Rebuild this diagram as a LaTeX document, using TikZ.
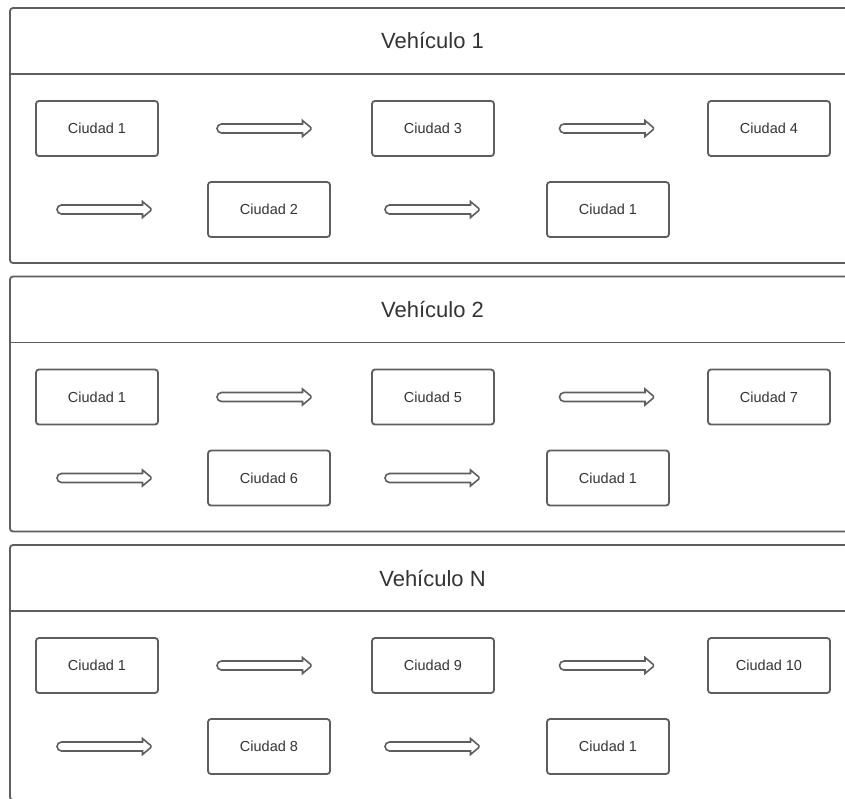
\documentclass[tikz,border=0pt]{standalone}
\usepackage{fontspec}
\setmainfont{Liberation Sans}
\usetikzlibrary{calc}

\definecolor{borde}{HTML}{5E5E5E}
\definecolor{texto}{HTML}{333333}

\begin{document}
\begin{tikzpicture}[x=1pt, y=-1pt,
    ciudad/.style={draw=borde, line width=1.8pt, rounded corners=3pt,
        minimum width=122pt, minimum height=55pt, text=texto,
        font=\fontsize{14.5}{16}\selectfont},
    titulo/.style={text=texto, font=\fontsize{22}{24}\selectfont},
    flecha/.pic={
        \draw[borde, line width=1.6pt]
            (38,-4.5) [rounded corners=4.5pt] -- (-47.5,-4.5) -- (-47.5,4.5)
            [sharp corners] -- (38,4.5) -- (38,8)
            [rounded corners=1.5pt] -- (47.5,0)
            [sharp corners] -- (38,-8) -- cycle;
    }]

\clip (0,0) rectangle (845,798);

% One panel per vehicle
\foreach \p/\v/\a/\b/\c/\d/\e in {0/1/1/3/4/2/1, 1/2/1/5/7/6/1, 2/N/1/9/10/8/1}
{
    \pgfmathsetmacro{\off}{268.5*\p}

    % Frame and header
    \draw[borde, line width=1.8pt, rounded corners=3pt] (10,8+\off) rectangle (880,263+\off);
    \draw[borde, line width=1.8pt] (10,74+\off) -- (880,74+\off);
    \node[titulo] (v\p) at (432.5,41+\off) {Vehículo \v};

    % Route, first row
    \node[ciudad] (c\p a) at (97,128.5+\off) {Ciudad \a};
    \pic at (264.5,128.5+\off) {flecha};
    \node[ciudad] (c\p b) at (433,128.5+\off) {Ciudad \b};
    \pic at (607,128.5+\off) {flecha};
    \node[ciudad] (c\p c) at (769,128.5+\off) {Ciudad \c};

    % Route, second row
    \pic at (104.5,209.5+\off) {flecha};
    \node[ciudad] (c\p d) at (269,209.5+\off) {Ciudad \d};
    \pic at (432.5,209.5+\off) {flecha};
    \node[ciudad] (c\p e) at (608,209.5+\off) {Ciudad \e};
}

\end{tikzpicture}
\end{document}
